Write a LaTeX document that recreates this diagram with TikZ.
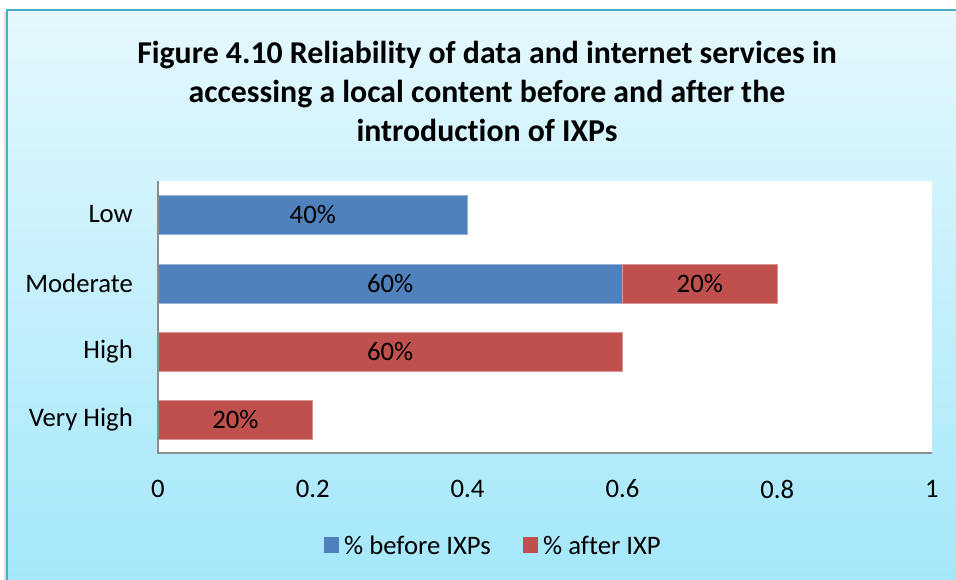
\documentclass[tikz,border=0pt]{standalone}
\usepackage{fontspec}
\setmainfont{Carlito}[RawFeature={-liga}]
\definecolor{bgtop}{HTML}{E4F8FD}
\definecolor{bgbot}{HTML}{A3E7FA}
\definecolor{frame}{HTML}{4BACC6}
\definecolor{barblue}{HTML}{4F81BD}
\definecolor{barred}{HTML}{C0504D}
\definecolor{axisgray}{HTML}{8C8C8C}
\tikzset{
  lbl/.style={inner sep=0pt, font=\fontsize{26.7}{31}\selectfont},
  catlbl/.style={lbl, anchor=east},
  ticklbl/.style={lbl, anchor=center},
  bluebar/.style={fill=barblue, draw=barblue!60!white, line width=0.8pt},
  redbar/.style={fill=barred, draw=barred!60!white, line width=0.8pt},
}
\begin{document}
\begin{tikzpicture}[x=1pt,y=-1pt]
\useasboundingbox (0,0) rectangle (956,580);
\clip (0,0) rectangle (956,580);
\fill[white] (0,0) rectangle (956,580);
% shadow
\fill[black!12] (4,12) rectangle (7,580);
% chart area
\shade[top color=bgtop, bottom color=bgbot] (7,10) rectangle (970,590);
\draw[frame, line width=2.5pt] (7,590) -- (7,10) -- (970,10);
% title
\node[font=\bfseries\fontsize{31.8}{39}\selectfont, align=center, inner sep=0pt] (title) at (487,91)
  {Figure 4.10 Reliability of data and internet services in\\accessing a local content before and after the\\introduction of IXPs};
% plot area
\fill[white] (158,181) rectangle (932,453);
% bars
\path[bluebar] (158,195) rectangle (467.6,234);
\path[bluebar] (158,264) rectangle (622.4,303);
\path[redbar] (622.4,264) rectangle (777.2,303);
\path[redbar] (158,332) rectangle (622.4,371);
\path[redbar] (158,400) rectangle (312.8,439);
% axes
\coordinate (o) at (158,453);
\coordinate (ytop) at (158,181);
\coordinate (xend) at (932,453);
\draw[axisgray, line width=1.5pt] (ytop) -- (o) -- (xend);
% bar labels
\node[ticklbl] (b1) at (312.8,214.5) {40\%};
\node[ticklbl] (b2) at (390.2,283.5) {60\%};
\node[ticklbl] (b3) at (699.8,283.5) {20\%};
\node[ticklbl] (b4) at (390.2,351.5) {60\%};
\node[ticklbl] (b5) at (235.4,419.5) {20\%};
% category labels
\node[catlbl] (c1) at (133,214.5) {Low};
\node[catlbl] (c2) at (133,283.5) {Moderate};
\node[catlbl] (c3) at (133,351.5) {High};
\node[catlbl] (c4) at (133,419.5) {Very High};
% tick labels
\node[ticklbl] (t0) at (158,489) {0};
\node[ticklbl] (t1) at (312.8,489) {0.2};
\node[ticklbl] (t2) at (467.6,489) {0.4};
\node[ticklbl] (t3) at (622.4,489) {0.6};
\node[ticklbl] (t4) at (777.2,489) {0.8};
\node[ticklbl] (t5) at (932,489) {1};
% legend
\fill[barblue] (324,537) rectangle (339,553);
\node[lbl, anchor=west] (l1) at (344,545) {\% before IXPs};
\fill[barred] (523,537) rectangle (538,553);
\node[lbl, anchor=west] (l2) at (543,545) {\% after IXP};
\end{tikzpicture}
\end{document}
